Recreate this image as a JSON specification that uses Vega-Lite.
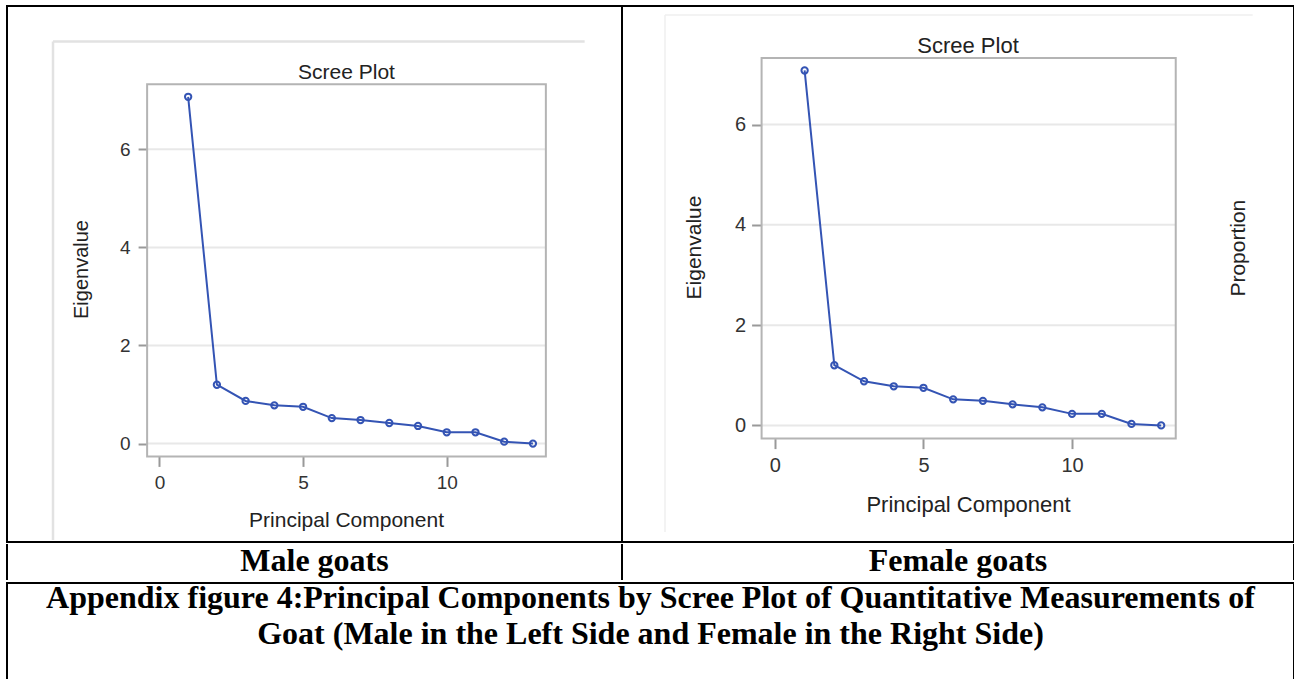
{
  "$schema": "https://vega.github.io/schema/vega-lite/v6.json",
  "padding": {"left": 5, "top": 5, "right": 0, "bottom": 0},
  "background": "white",
  "config": {
    "view": {"stroke": "black", "strokeWidth": 2},
    "font": "Liberation Sans"
  },
  "datasets": {
    "male": [
      {"pc": 1, "ev": 7.07}, {"pc": 2, "ev": 1.20}, {"pc": 3, "ev": 0.87}, {"pc": 4, "ev": 0.78},
      {"pc": 5, "ev": 0.75}, {"pc": 6, "ev": 0.52}, {"pc": 7, "ev": 0.48}, {"pc": 8, "ev": 0.42},
      {"pc": 9, "ev": 0.36}, {"pc": 10, "ev": 0.23}, {"pc": 11, "ev": 0.23}, {"pc": 12, "ev": 0.04},
      {"pc": 13, "ev": 0.0}
    ],
    "female": [
      {"pc": 1, "ev": 7.08}, {"pc": 2, "ev": 1.20}, {"pc": 3, "ev": 0.88}, {"pc": 4, "ev": 0.78},
      {"pc": 5, "ev": 0.75}, {"pc": 6, "ev": 0.52}, {"pc": 7, "ev": 0.49}, {"pc": 8, "ev": 0.42},
      {"pc": 9, "ev": 0.36}, {"pc": 10, "ev": 0.23}, {"pc": 11, "ev": 0.23}, {"pc": 12, "ev": 0.03},
      {"pc": 13, "ev": 0.0}
    ],
    "grid": [{"g": 0}, {"g": 2}, {"g": 4}, {"g": 6}],
    "one": [{"k": 1}]
  },
  "spacing": 0,
  "vconcat": [
    {
      "spacing": 0,
      "bounds": "flush",
      "hconcat": [
        {
          "width": 615,
          "height": 536,
          "title": {"text": "Scree Plot", "frame": "group", "anchor": "middle", "baseline": "alphabetic", "offset": -94, "dx": 32, "fontSize": 21, "fontWeight": "normal", "color": "#222", "font": "Liberation Sans"},
          "layer": [
            {
              "data": {"name": "one"},
              "mark": {"type": "rule", "color": "#e2e2e2", "strokeWidth": 2.5},
              "encoding": {
                "x": {"datum": -3.704, "type": "quantitative", "scale": {"domain": [-5.305, 16.10], "nice": false, "zero": false},
                  "axis": {"values": [0, 5, 10], "offset": -85.6, "domain": false, "grid": false, "tickSize": 10, "tickColor": "#999", "tickWidth": 2, "labelPadding": 7, "labelFontSize": 19, "labelColor": "#333", "title": "Principal Component", "titleFontSize": 21, "titleFontWeight": "normal", "titleColor": "#222", "titlePadding": 17, "titleX": 339}},
                "y": {"datum": 8.197, "type": "quantitative", "scale": {"domain": [-2.006, 8.921], "nice": false, "zero": false},
                  "axis": {"values": [0, 2, 4, 6], "offset": -140.1, "domain": false, "grid": false, "tickSize": 9, "tickColor": "#999", "tickWidth": 2, "labelPadding": 8, "labelFontSize": 19, "labelColor": "#333", "title": "Eigenvalue", "titleFontSize": 20, "titleFontWeight": "normal", "titleColor": "#222", "titlePadding": 28, "titleY": 263}},
                "x2": {"datum": 14.80}
              }
            },
            {
              "data": {"name": "one"},
              "mark": {"type": "rule", "color": "#e2e2e2", "strokeWidth": 2.5},
              "encoding": {
                "x": {"datum": -3.704, "type": "quantitative", "scale": {"domain": [-5.305, 16.10], "nice": false, "zero": false},
                  "axis": {"values": [0, 5, 10], "offset": -85.6, "domain": false, "grid": false, "tickSize": 10, "tickColor": "#999", "tickWidth": 2, "labelPadding": 7, "labelFontSize": 19, "labelColor": "#333", "title": "Principal Component", "titleFontSize": 21, "titleFontWeight": "normal", "titleColor": "#222", "titlePadding": 17, "titleX": 339}},
                "y": {"datum": 8.197, "type": "quantitative", "scale": {"domain": [-2.006, 8.921], "nice": false, "zero": false},
                  "axis": {"values": [0, 2, 4, 6], "offset": -140.1, "domain": false, "grid": false, "tickSize": 9, "tickColor": "#999", "tickWidth": 2, "labelPadding": 8, "labelFontSize": 19, "labelColor": "#333", "title": "Eigenvalue", "titleFontSize": 20, "titleFontWeight": "normal", "titleColor": "#222", "titlePadding": 28, "titleY": 263}},
                "y2": {"datum": -1.966}
              }
            },
            {
              "data": {"name": "grid"},
              "mark": {"type": "rule", "color": "#e8e8e8", "strokeWidth": 2},
              "encoding": {
                "x": {"datum": -0.428, "type": "quantitative", "scale": {"domain": [-5.305, 16.10], "nice": false, "zero": false},
                  "axis": {"values": [0, 5, 10], "offset": -85.6, "domain": false, "grid": false, "tickSize": 10, "tickColor": "#999", "tickWidth": 2, "labelPadding": 7, "labelFontSize": 19, "labelColor": "#333", "title": "Principal Component", "titleFontSize": 21, "titleFontWeight": "normal", "titleColor": "#222", "titlePadding": 17, "titleX": 339}},
                "x2": {"datum": 13.45},
                "y": {"field": "g", "type": "quantitative", "scale": {"domain": [-2.006, 8.921], "nice": false, "zero": false},
                  "axis": {"values": [0, 2, 4, 6], "offset": -140.1, "domain": false, "grid": false, "tickSize": 9, "tickColor": "#999", "tickWidth": 2, "labelPadding": 8, "labelFontSize": 19, "labelColor": "#333", "title": "Eigenvalue", "titleFontSize": 20, "titleFontWeight": "normal", "titleColor": "#222", "titlePadding": 28, "titleY": 263}}
              }
            },
            {
              "data": {"name": "one"},
              "mark": {"type": "rect", "filled": false, "stroke": "#b4b4b4", "strokeWidth": 2},
              "encoding": {
                "x": {"datum": -0.428, "type": "quantitative", "scale": {"domain": [-5.305, 16.10], "nice": false, "zero": false},
                  "axis": {"values": [0, 5, 10], "offset": -85.6, "domain": false, "grid": false, "tickSize": 10, "tickColor": "#999", "tickWidth": 2, "labelPadding": 7, "labelFontSize": 19, "labelColor": "#333", "title": "Principal Component", "titleFontSize": 21, "titleFontWeight": "normal", "titleColor": "#222", "titlePadding": 17, "titleX": 339}},
                "x2": {"datum": 13.45},
                "y": {"datum": 7.325, "type": "quantitative", "scale": {"domain": [-2.006, 8.921], "nice": false, "zero": false},
                  "axis": {"values": [0, 2, 4, 6], "offset": -140.1, "domain": false, "grid": false, "tickSize": 9, "tickColor": "#999", "tickWidth": 2, "labelPadding": 8, "labelFontSize": 19, "labelColor": "#333", "title": "Eigenvalue", "titleFontSize": 20, "titleFontWeight": "normal", "titleColor": "#222", "titlePadding": 28, "titleY": 263}},
                "y2": {"datum": -0.261}
              }
            },
            {
              "data": {"name": "male"},
              "mark": {"type": "line", "color": "#3454b4", "strokeWidth": 2},
              "encoding": {
                "x": {"field": "pc", "type": "quantitative", "scale": {"domain": [-5.305, 16.10], "nice": false, "zero": false},
                  "axis": {"values": [0, 5, 10], "offset": -85.6, "domain": false, "grid": false, "tickSize": 10, "tickColor": "#999", "tickWidth": 2, "labelPadding": 7, "labelFontSize": 19, "labelColor": "#333", "title": "Principal Component", "titleFontSize": 21, "titleFontWeight": "normal", "titleColor": "#222", "titlePadding": 17, "titleX": 339}},
                "y": {"field": "ev", "type": "quantitative", "scale": {"domain": [-2.006, 8.921], "nice": false, "zero": false},
                  "axis": {"values": [0, 2, 4, 6], "offset": -140.1, "domain": false, "grid": false, "tickSize": 9, "tickColor": "#999", "tickWidth": 2, "labelPadding": 8, "labelFontSize": 19, "labelColor": "#333", "title": "Eigenvalue", "titleFontSize": 20, "titleFontWeight": "normal", "titleColor": "#222", "titlePadding": 28, "titleY": 263}}
              }
            },
            {
              "data": {"name": "male"},
              "mark": {"type": "point", "shape": "circle", "filled": false, "color": "#3454b4", "strokeWidth": 2, "size": 40, "opacity": 1},
              "encoding": {
                "x": {"field": "pc", "type": "quantitative", "scale": {"domain": [-5.305, 16.10], "nice": false, "zero": false},
                  "axis": {"values": [0, 5, 10], "offset": -85.6, "domain": false, "grid": false, "tickSize": 10, "tickColor": "#999", "tickWidth": 2, "labelPadding": 7, "labelFontSize": 19, "labelColor": "#333", "title": "Principal Component", "titleFontSize": 21, "titleFontWeight": "normal", "titleColor": "#222", "titlePadding": 17, "titleX": 339}},
                "y": {"field": "ev", "type": "quantitative", "scale": {"domain": [-2.006, 8.921], "nice": false, "zero": false},
                  "axis": {"values": [0, 2, 4, 6], "offset": -140.1, "domain": false, "grid": false, "tickSize": 9, "tickColor": "#999", "tickWidth": 2, "labelPadding": 8, "labelFontSize": 19, "labelColor": "#333", "title": "Eigenvalue", "titleFontSize": 20, "titleFontWeight": "normal", "titleColor": "#222", "titlePadding": 28, "titleY": 263}}
              }
            }
          ]
        },
        {
          "width": 672,
          "height": 536,
          "title": {"text": "Scree Plot", "frame": "group", "anchor": "middle", "baseline": "alphabetic", "offset": -69, "dx": 10, "fontSize": 22, "fontWeight": "normal", "color": "#222", "font": "Liberation Sans"},
          "layer": [
            {
              "data": {"name": "one"},
              "mark": {"type": "rule", "color": "#efefef", "strokeWidth": 1.5},
              "encoding": {
                "x": {"datum": -3.699, "type": "quantitative", "scale": {"domain": [-5.146, 17.47], "nice": false, "zero": false},
                  "axis": {"values": [0, 5, 10], "offset": -103.4, "domain": false, "grid": false, "tickSize": 10, "tickColor": "#999", "tickWidth": 2, "labelPadding": 7, "labelFontSize": 20, "labelColor": "#333", "title": "Principal Component", "titleFontSize": 22, "titleFontWeight": "normal", "titleColor": "#222", "titlePadding": 19, "titleX": 346}},
                "y": {"datum": 8.186, "type": "quantitative", "scale": {"domain": [-2.326, 8.366], "nice": false, "zero": false},
                  "axis": {"values": [0, 2, 4, 6], "offset": -139.6, "domain": false, "grid": false, "tickSize": 10, "tickColor": "#999", "tickWidth": 2, "labelPadding": 6, "labelFontSize": 20, "labelColor": "#333", "title": "Eigenvalue", "titleFontSize": 21, "titleFontWeight": "normal", "titleColor": "#222", "titlePadding": 30, "titleY": 241}},
                "x2": {"datum": 16.08}
              }
            },
            {
              "data": {"name": "one"},
              "mark": {"type": "rule", "color": "#efefef", "strokeWidth": 1.5},
              "encoding": {
                "x": {"datum": -3.699, "type": "quantitative", "scale": {"domain": [-5.146, 17.47], "nice": false, "zero": false},
                  "axis": {"values": [0, 5, 10], "offset": -103.4, "domain": false, "grid": false, "tickSize": 10, "tickColor": "#999", "tickWidth": 2, "labelPadding": 7, "labelFontSize": 20, "labelColor": "#333", "title": "Principal Component", "titleFontSize": 22, "titleFontWeight": "normal", "titleColor": "#222", "titlePadding": 19, "titleX": 346}},
                "y": {"datum": 8.186, "type": "quantitative", "scale": {"domain": [-2.326, 8.366], "nice": false, "zero": false},
                  "axis": {"values": [0, 2, 4, 6], "offset": -139.6, "domain": false, "grid": false, "tickSize": 10, "tickColor": "#999", "tickWidth": 2, "labelPadding": 6, "labelFontSize": 20, "labelColor": "#333", "title": "Eigenvalue", "titleFontSize": 21, "titleFontWeight": "normal", "titleColor": "#222", "titlePadding": 30, "titleY": 241}},
                "y2": {"datum": -2.127}
              }
            },
            {
              "data": {"name": "grid"},
              "mark": {"type": "rule", "color": "#e8e8e8", "strokeWidth": 2},
              "encoding": {
                "x": {"datum": -0.448, "type": "quantitative", "scale": {"domain": [-5.146, 17.47], "nice": false, "zero": false},
                  "axis": {"values": [0, 5, 10], "offset": -103.4, "domain": false, "grid": false, "tickSize": 10, "tickColor": "#999", "tickWidth": 2, "labelPadding": 7, "labelFontSize": 20, "labelColor": "#333", "title": "Principal Component", "titleFontSize": 22, "titleFontWeight": "normal", "titleColor": "#222", "titlePadding": 19, "titleX": 346}},
                "x2": {"datum": 13.49},
                "y": {"field": "g", "type": "quantitative", "scale": {"domain": [-2.326, 8.366], "nice": false, "zero": false},
                  "axis": {"values": [0, 2, 4, 6], "offset": -139.6, "domain": false, "grid": false, "tickSize": 10, "tickColor": "#999", "tickWidth": 2, "labelPadding": 6, "labelFontSize": 20, "labelColor": "#333", "title": "Eigenvalue", "titleFontSize": 21, "titleFontWeight": "normal", "titleColor": "#222", "titlePadding": 30, "titleY": 241}}
              }
            },
            {
              "data": {"name": "one"},
              "mark": {"type": "rect", "filled": false, "stroke": "#b4b4b4", "strokeWidth": 2},
              "encoding": {
                "x": {"datum": -0.448, "type": "quantitative", "scale": {"domain": [-5.146, 17.47], "nice": false, "zero": false},
                  "axis": {"values": [0, 5, 10], "offset": -103.4, "domain": false, "grid": false, "tickSize": 10, "tickColor": "#999", "tickWidth": 2, "labelPadding": 7, "labelFontSize": 20, "labelColor": "#333", "title": "Principal Component", "titleFontSize": 22, "titleFontWeight": "normal", "titleColor": "#222", "titlePadding": 19, "titleX": 346}},
                "x2": {"datum": 13.49},
                "y": {"datum": 7.331, "type": "quantitative", "scale": {"domain": [-2.326, 8.366], "nice": false, "zero": false},
                  "axis": {"values": [0, 2, 4, 6], "offset": -139.6, "domain": false, "grid": false, "tickSize": 10, "tickColor": "#999", "tickWidth": 2, "labelPadding": 6, "labelFontSize": 20, "labelColor": "#333", "title": "Eigenvalue", "titleFontSize": 21, "titleFontWeight": "normal", "titleColor": "#222", "titlePadding": 30, "titleY": 241}},
                "y2": {"datum": -0.263}
              }
            },
            {
              "data": {"values": [{"t": "Proportion"}]},
              "mark": {"type": "text", "angle": 270, "align": "center", "baseline": "middle", "fontSize": 21, "color": "#222", "font": "Liberation Sans"},
              "encoding": {
                "text": {"field": "t"},
                "x": {"datum": 15.61, "type": "quantitative", "scale": {"domain": [-5.146, 17.47], "nice": false, "zero": false},
                  "axis": {"values": [0, 5, 10], "offset": -103.4, "domain": false, "grid": false, "tickSize": 10, "tickColor": "#999", "tickWidth": 2, "labelPadding": 7, "labelFontSize": 20, "labelColor": "#333", "title": "Principal Component", "titleFontSize": 22, "titleFontWeight": "normal", "titleColor": "#222", "titlePadding": 19, "titleX": 346}},
                "y": {"datum": 3.535, "type": "quantitative", "scale": {"domain": [-2.326, 8.366], "nice": false, "zero": false},
                  "axis": {"values": [0, 2, 4, 6], "offset": -139.6, "domain": false, "grid": false, "tickSize": 10, "tickColor": "#999", "tickWidth": 2, "labelPadding": 6, "labelFontSize": 20, "labelColor": "#333", "title": "Eigenvalue", "titleFontSize": 21, "titleFontWeight": "normal", "titleColor": "#222", "titlePadding": 30, "titleY": 241}}
              }
            },
            {
              "data": {"name": "female"},
              "mark": {"type": "line", "color": "#3454b4", "strokeWidth": 2},
              "encoding": {
                "x": {"field": "pc", "type": "quantitative", "scale": {"domain": [-5.146, 17.47], "nice": false, "zero": false},
                  "axis": {"values": [0, 5, 10], "offset": -103.4, "domain": false, "grid": false, "tickSize": 10, "tickColor": "#999", "tickWidth": 2, "labelPadding": 7, "labelFontSize": 20, "labelColor": "#333", "title": "Principal Component", "titleFontSize": 22, "titleFontWeight": "normal", "titleColor": "#222", "titlePadding": 19, "titleX": 346}},
                "y": {"field": "ev", "type": "quantitative", "scale": {"domain": [-2.326, 8.366], "nice": false, "zero": false},
                  "axis": {"values": [0, 2, 4, 6], "offset": -139.6, "domain": false, "grid": false, "tickSize": 10, "tickColor": "#999", "tickWidth": 2, "labelPadding": 6, "labelFontSize": 20, "labelColor": "#333", "title": "Eigenvalue", "titleFontSize": 21, "titleFontWeight": "normal", "titleColor": "#222", "titlePadding": 30, "titleY": 241}}
              }
            },
            {
              "data": {"name": "female"},
              "mark": {"type": "point", "shape": "circle", "filled": false, "color": "#3454b4", "strokeWidth": 2, "size": 40, "opacity": 1},
              "encoding": {
                "x": {"field": "pc", "type": "quantitative", "scale": {"domain": [-5.146, 17.47], "nice": false, "zero": false},
                  "axis": {"values": [0, 5, 10], "offset": -103.4, "domain": false, "grid": false, "tickSize": 10, "tickColor": "#999", "tickWidth": 2, "labelPadding": 7, "labelFontSize": 20, "labelColor": "#333", "title": "Principal Component", "titleFontSize": 22, "titleFontWeight": "normal", "titleColor": "#222", "titlePadding": 19, "titleX": 346}},
                "y": {"field": "ev", "type": "quantitative", "scale": {"domain": [-2.326, 8.366], "nice": false, "zero": false},
                  "axis": {"values": [0, 2, 4, 6], "offset": -139.6, "domain": false, "grid": false, "tickSize": 10, "tickColor": "#999", "tickWidth": 2, "labelPadding": 6, "labelFontSize": 20, "labelColor": "#333", "title": "Eigenvalue", "titleFontSize": 21, "titleFontWeight": "normal", "titleColor": "#222", "titlePadding": 30, "titleY": 241}}
              }
            }
          ]
        }
      ]
    },
    {
      "spacing": 0,
      "bounds": "flush",
      "hconcat": [
        {
          "width": 615,
          "height": 34,
          "view": {"stroke": null},
          "layer": [
            {
              "data": {"name": "one"},
              "mark": {"type": "rule", "color": "black", "strokeWidth": 2, "strokeCap": "square"},
              "encoding": {
                "x": {"datum": -1, "type": "quantitative", "scale": {"domain": [-1, 1]}, "axis": null},
                "y": {"datum": 1, "type": "quantitative", "scale": {"domain": [-1, 1]}, "axis": null},
                "y2": {"datum": -1}
              }
            },
            {
              "data": {"name": "one"},
              "mark": {"type": "rule", "color": "black", "strokeWidth": 2, "strokeCap": "square"},
              "encoding": {
                "x": {"datum": 1, "type": "quantitative", "scale": {"domain": [-1, 1]}, "axis": null},
                "y": {"datum": 1, "type": "quantitative", "scale": {"domain": [-1, 1]}, "axis": null},
                "y2": {"datum": -1}
              }
            },
            {
              "data": {"values": [{"t": "Male goats"}]},
              "mark": {"type": "text", "font": "Liberation Serif", "fontWeight": "bold", "fontSize": 32, "align": "center", "baseline": "middle", "dy": -1, "color": "black"},
              "encoding": {
                "text": {"field": "t"},
                "x": {"datum": 0, "type": "quantitative", "scale": {"domain": [-1, 1]}, "axis": null},
                "y": {"datum": 0, "type": "quantitative", "scale": {"domain": [-1, 1]}, "axis": null}
              }
            }
          ]
        },
        {
          "width": 672,
          "height": 34,
          "view": {"stroke": null},
          "layer": [
            {
              "data": {"name": "one"},
              "mark": {"type": "rule", "color": "black", "strokeWidth": 2, "strokeCap": "square"},
              "encoding": {
                "x": {"datum": -1, "type": "quantitative", "scale": {"domain": [-1, 1]}, "axis": null},
                "y": {"datum": 1, "type": "quantitative", "scale": {"domain": [-1, 1]}, "axis": null},
                "y2": {"datum": -1}
              }
            },
            {
              "data": {"name": "one"},
              "mark": {"type": "rule", "color": "black", "strokeWidth": 2, "strokeCap": "square"},
              "encoding": {
                "x": {"datum": 1, "type": "quantitative", "scale": {"domain": [-1, 1]}, "axis": null},
                "y": {"datum": 1, "type": "quantitative", "scale": {"domain": [-1, 1]}, "axis": null},
                "y2": {"datum": -1}
              }
            },
            {
              "data": {"values": [{"t": "Female goats"}]},
              "mark": {"type": "text", "font": "Liberation Serif", "fontWeight": "bold", "fontSize": 32, "align": "center", "baseline": "middle", "dy": -1, "color": "black"},
              "encoding": {
                "text": {"field": "t"},
                "x": {"datum": 0, "type": "quantitative", "scale": {"domain": [-1, 1]}, "axis": null},
                "y": {"datum": 0, "type": "quantitative", "scale": {"domain": [-1, 1]}, "axis": null}
              }
            }
          ]
        }
      ]
    },
    {
      "width": 1287,
      "height": 98,
      "view": {"stroke": null},
      "layer": [
        {
          "data": {"name": "one"},
          "mark": {"type": "rule", "color": "black", "strokeWidth": 2, "strokeCap": "square"},
          "encoding": {
            "x": {"datum": -1, "type": "quantitative", "scale": {"domain": [-1, 1]}, "axis": null},
            "x2": {"datum": 1},
            "y": {"datum": 1, "type": "quantitative", "scale": {"domain": [-1, 1]}, "axis": null}
          }
        },
        {
          "data": {"name": "one"},
          "mark": {"type": "rule", "color": "black", "strokeWidth": 2, "strokeCap": "square"},
          "encoding": {
            "x": {"datum": -1, "type": "quantitative", "scale": {"domain": [-1, 1]}, "axis": null},
            "y": {"datum": 1, "type": "quantitative", "scale": {"domain": [-1, 1]}, "axis": null},
            "y2": {"datum": -1}
          }
        },
        {
          "data": {"name": "one"},
          "mark": {"type": "rule", "color": "black", "strokeWidth": 2, "strokeCap": "square"},
          "encoding": {
            "x": {"datum": 1, "type": "quantitative", "scale": {"domain": [-1, 1]}, "axis": null},
            "y": {"datum": 1, "type": "quantitative", "scale": {"domain": [-1, 1]}, "axis": null},
            "y2": {"datum": -1}
          }
        },
        {
          "data": {"values": [{"t": "Appendix figure 4:Principal Components by Scree Plot of Quantitative Measurements of\nGoat (Male in the Left Side and Female in the Right Side)"}]},
          "mark": {"type": "text", "font": "Liberation Serif", "fontWeight": "bold", "fontSize": 32, "align": "center", "baseline": "middle", "lineBreak": "\n", "lineHeight": 36, "dy": -34, "color": "black"},
          "encoding": {
            "text": {"field": "t"},
            "x": {"datum": 0, "type": "quantitative", "scale": {"domain": [-1, 1]}, "axis": null},
            "y": {"datum": 0, "type": "quantitative", "scale": {"domain": [-1, 1]}, "axis": null}
          }
        }
      ]
    }
  ]
}
